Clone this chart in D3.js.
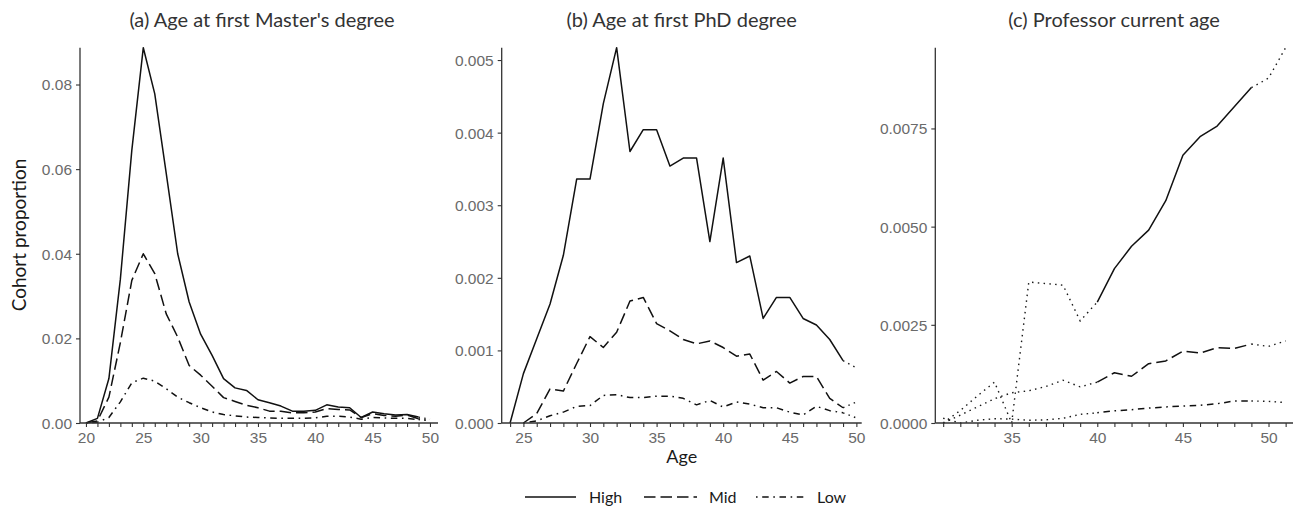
<!DOCTYPE html>
<html>
<head>
<meta charset="utf-8">
<script src="https://cdn.jsdelivr.net/npm/d3@7"></script>
<style>
  html, body { margin: 0; padding: 0; background: #fff; }
  svg { display: block; }
</style>
</head>
<body>
<svg id="chart" width="1296" height="513"></svg>
<script>
// ---------------- DATA ----------------
const seriesNames = ["High", "Mid", "Low"];

// (a) Age at first Master's degree
const agesA = d3.range(20, 51);
const highA = [0, 0.0011, 0.0105, 0.034, 0.0645, 0.0887, 0.0778, 0.059, 0.040, 0.0286, 0.021, 0.016, 0.0105, 0.0083, 0.0077, 0.0055, 0.0048, 0.004, 0.0028, 0.0028, 0.003, 0.0043, 0.0038, 0.0036, 0.0013, 0.0026, 0.0022, 0.0019, 0.002, 0.0014, 0.0009];
const midA  = [0, 0.0005, 0.0061, 0.019, 0.0337, 0.040, 0.0353, 0.0258, 0.0203, 0.0136, 0.0113, 0.0087, 0.006, 0.0051, 0.0042, 0.0036, 0.0028, 0.0028, 0.0024, 0.0024, 0.0026, 0.0034, 0.0032, 0.0031, 0.0013, 0.0022, 0.0018, 0.0016, 0.0019, 0.001, 0.0006];
const lowA  = [0, 0.0002, 0.0013, 0.005, 0.0095, 0.0106, 0.0099, 0.0081, 0.0061, 0.0048, 0.0036, 0.0026, 0.002, 0.0017, 0.0014, 0.0013, 0.0012, 0.0011, 0.0011, 0.0011, 0.0012, 0.0016, 0.0016, 0.0014, 0.0009, 0.0013, 0.0012, 0.0011, 0.0011, 0.0008, 0.0005];

// (b) Age at first PhD degree
const agesB = d3.range(24, 51);
const highB = [0, 0.00068, 0.00116, 0.00164, 0.00231, 0.00336, 0.00336, 0.0044, 0.00517, 0.00374, 0.00404, 0.00404, 0.00354, 0.00365, 0.00365, 0.0025, 0.00365, 0.00221, 0.0023, 0.00144, 0.00173, 0.00173, 0.00144, 0.00135, 0.00115, 0.00086, 0.00076];
const midB  = [null, 0, 0.00013, 0.00047, 0.00044, 0.00082, 0.00119, 0.00104, 0.00125, 0.00168, 0.00173, 0.00137, 0.00127, 0.00115, 0.00109, 0.00113, 0.00104, 0.00092, 0.00095, 0.00059, 0.00071, 0.00055, 0.00064, 0.00064, 0.00034, 0.00021, 0.00029];
const lowB  = [null, 0, 0.00003, 0.0001, 0.00015, 0.00023, 0.00024, 0.00038, 0.00039, 0.00035, 0.00035, 0.00037, 0.00037, 0.00034, 0.00025, 0.00031, 0.00022, 0.00029, 0.00026, 0.00021, 0.00021, 0.00015, 0.00011, 0.00023, 0.00017, 0.00014, 0.00007];

// (c) Professor current age
const agesC = d3.range(31, 52);
const highC = [0, 0.00032, 0.00069, 0.00104, 0, 0.00359, 0.00355, 0.00351, 0.0026, 0.00308, 0.00393, 0.0045, 0.00491, 0.00566, 0.00682, 0.00729, 0.00756, 0.00805, 0.00854, 0.00878, 0.009556];
const midC  = [0, 0.0002, 0.00041, 0.00062, 0.00077, 0.00082, 0.00093, 0.00109, 0.00092, 0.00104, 0.00128, 0.00119, 0.00151, 0.00158, 0.00183, 0.00178, 0.00192, 0.0019, 0.00201, 0.00195, 0.00209];
const lowC  = [0.00012, 0, 0.00007, 0.00011, 0.0001, 0.00007, 0.00008, 0.00012, 0.00022, 0.00026, 0.00031, 0.00034, 0.00038, 0.00041, 0.00043, 0.00045, 0.00049, 0.00056, 0.00056, 0.00055, 0.00052];

const yTicksA = [0, 0.02, 0.04, 0.06, 0.08];
const yTicksB = [0, 0.001, 0.002, 0.003, 0.004, 0.005];
const yTicksC = [0, 0.0025, 0.005, 0.0075];
const xLabelsA = [20, 25, 30, 35, 40, 45, 50];
const xLabelsB = [25, 30, 35, 40, 45, 50];
const xLabelsC = [35, 40, 45, 50];

const titles = ["(a) Age at first Master's degree", "(b) Age at first PhD degree", "(c) Professor current age"];

// ---------------- STYLE / LAYOUT ----------------
const dash = { High: null, Mid: "11.5,5", Low: "1.6,4.6,6.5,4.6" };
const dotted = "1.5,4.3";
const tickFont = "'Liberation Sans', Arial, Helvetica, sans-serif";
const textFont = "Lato, 'Open Sans', sans-serif";

const panels = [
  { ages: agesA, series: [highA, midA, lowA], xr: [80, 438], xd: [19.48, 50.7], yTicks: yTicksA, fmt: d3.format(".2f"), xLabels: xLabelsA, solid: [20, 49], title: titles[0] },
  { ages: agesB, series: [highB, midB, lowB], xr: [501.7, 861.7], xd: [23.37, 50.4], yTicks: yTicksB, fmt: d3.format(".3f"), xLabels: xLabelsB, solid: [24, 49], title: titles[1] },
  { ages: agesC, series: [highC, midC, lowC], xr: [935.3, 1293], xd: [30.54, 51.43], yTicks: yTicksC, fmt: d3.format(".4f"), xLabels: xLabelsC, solid: [40, 49], title: titles[2] }
];
const yBottom = 423, yTop = 47.7;

const svg = d3.select("#chart");

panels.forEach((p, pi) => {
  const x = d3.scaleLinear().domain(p.xd).range(p.xr);
  const yMax = d3.max(p.series.flat().filter(v => v != null));
  const y = d3.scaleLinear().domain([0, yMax]).range([yBottom, yTop]);
  const g = svg.append("g");

  // lines
  p.series.forEach((vals, si) => {
    const name = seriesNames[si];
    const pts = p.ages.map((a, i) => ({ a, v: vals[i] })).filter(d => d.v != null);
    const line = d3.line().x(d => x(d.a)).y(d => y(d.v));
    const main = pts.filter(d => d.a >= p.solid[0] && d.a <= p.solid[1]);
    const pre = pts.filter(d => d.a <= p.solid[0]);
    const post = pts.filter(d => d.a >= p.solid[1]);
    [pre, post].forEach(seg => {
      if (seg.length > 1) {
        g.append("path").attr("d", line(seg)).attr("fill", "none")
          .attr("stroke", "#1a1a1a").attr("stroke-width", 1.4)
          .attr("stroke-dasharray", dotted);
      }
    });
    const pm = g.append("path").attr("d", line(main)).attr("fill", "none")
      .attr("stroke", "#111").attr("stroke-width", 1.5).attr("stroke-linejoin", "round");
    if (dash[name]) pm.attr("stroke-dasharray", dash[name]);
  });

  // x axis
  const xAxis = d3.axisBottom(x)
    .tickValues(d3.range(p.ages[0], p.ages[p.ages.length - 1] + 1))
    .tickSize(4).tickSizeOuter(0)
    .tickFormat(d => p.xLabels.includes(d) ? d : "");
  const gx = g.append("g").attr("transform", `translate(0,${yBottom})`).call(xAxis);
  gx.select(".domain").attr("d", `M${p.xr[0]},0H${p.xr[1]}`).attr("stroke", "#333").attr("stroke-width", 1.3);
  gx.selectAll(".tick line").attr("stroke", "#333").attr("stroke-width", 1.1);
  gx.selectAll(".tick text").attr("font-family", tickFont).attr("font-size", "15.5px")
    .attr("fill", "#6a6a6a").attr("y", 9).attr("dy", "0.71em");

  // y axis
  const yAxis = d3.axisLeft(y).tickValues(p.yTicks).tickSize(4).tickSizeOuter(0).tickFormat(p.fmt);
  const gy = g.append("g").attr("transform", `translate(${p.xr[0]},0)`).call(yAxis);
  gy.select(".domain").attr("d", `M0,${yTop}V${yBottom}`).attr("stroke", "#333").attr("stroke-width", 1.3);
  gy.selectAll(".tick line").attr("stroke", "#333").attr("stroke-width", 1.1);
  gy.selectAll(".tick text").attr("font-family", tickFont).attr("font-size", "15.5px")
    .attr("fill", "#6a6a6a").attr("x", -8).attr("dy", "0.35em");

  // title
  svg.append("text").attr("x", (p.xr[0] + p.xr[1]) / 2 + (pi === 0 ? 3 : 0)).attr("y", 27)
    .attr("text-anchor", "middle").attr("font-family", textFont).attr("font-size", "20px")
    .attr("fill", "#333").text(p.title);
});

// axis titles
svg.append("text").attr("transform", "translate(26,235) rotate(-90)")
  .attr("text-anchor", "middle").attr("font-family", textFont).attr("font-size", "19px")
  .attr("fill", "#1a1a1a").text("Cohort proportion");
svg.append("text").attr("x", 681.7).attr("y", 463)
  .attr("text-anchor", "middle").attr("font-family", textFont).attr("font-size", "18px")
  .attr("fill", "#1a1a1a").text("Age");

// legend
const legendKeys = [
  { name: "High", x0: 525, x1: 576, tx: 589 },
  { name: "Mid", x0: 644, x1: 697, tx: 709 },
  { name: "Low", x0: 756, x1: 806, tx: 817 }
];
const lg = svg.append("g");
legendKeys.forEach(k => {
  const l = lg.append("line").attr("x1", k.x0).attr("x2", k.x1).attr("y1", 497).attr("y2", 497)
    .attr("stroke", "#111").attr("stroke-width", 1.7);
  if (dash[k.name]) l.attr("stroke-dasharray", dash[k.name]);
  lg.append("text").attr("x", k.tx).attr("y", 502.5).attr("font-family", textFont)
    .attr("font-size", "16px").attr("fill", "#1a1a1a").text(k.name);
});
</script>
</body>
</html>
